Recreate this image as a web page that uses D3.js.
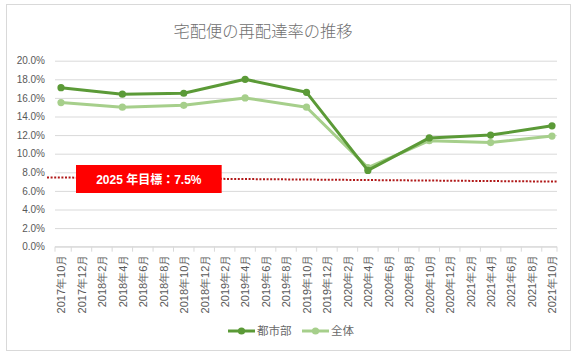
<!DOCTYPE html>
<html><head><meta charset="utf-8">
<script src="https://cdn.jsdelivr.net/npm/d3@7"></script>
<style>
body{margin:0;background:#fff;}
svg{display:block;font-family:"Liberation Sans",Arial,"Noto Sans CJK JP",sans-serif;}
</style></head>
<body><svg id="c" width="577" height="359"></svg>
<script>
const title = "宅配便の再配達率の推移";
const categories = ["2017年10月","2017年12月","2018年2月","2018年4月","2018年6月","2018年8月","2018年10月","2018年12月","2019年2月","2019年4月","2019年6月","2019年8月","2019年10月","2019年12月","2020年2月","2020年4月","2020年6月","2020年8月","2020年10月","2020年12月","2021年2月","2021年4月","2021年6月","2021年8月","2021年10月"];
const surveyMonths = ["2017年10月","2018年4月","2018年10月","2019年4月","2019年10月","2020年4月","2020年10月","2021年4月","2021年10月"];
const urbanValues = [17.1,16.4,16.5,18.0,16.6,8.2,11.7,12.0,13.0];
const totalValues = [15.5,15.0,15.2,16.0,15.0,8.5,11.4,11.2,11.9];
const seriesNames = ["都市部","全体"];
const yTicks = [0,2,4,6,8,10,12,14,16,18,20];
const targetLabel = "2025 年目標：7.5%";
const targetLine = [7.45, 7.0]; // drawn (slightly sloped) dotted target line, left/right ends

const colors = {urban:"#5b9a37", total:"#a6cf8b"};
const svg = d3.select("#c");

// outer border
svg.append("rect").attr("x",6.5).attr("y",4.5).attr("width",564).attr("height",346)
  .attr("fill","#fff").attr("stroke","#d9d9d9");

const x = d3.scalePoint().domain(categories).range([61,552]);
const step = x.step();
const y = d3.scaleLinear().domain([0,20]).range([246.7,60.7]);
const gx0 = 55, gx1 = 557;

// gridlines + y labels
const ya = svg.append("g").attr("transform",`translate(${gx0},0)`)
  .call(d3.axisLeft(y).tickValues(yTicks).tickSize(-(gx1-gx0)).tickPadding(10)
    .tickFormat(d=>d3.format(".1f")(d)+"%"));
ya.select(".domain").remove();
ya.selectAll(".tick line").attr("stroke","#d9d9d9").attr("stroke-width",1);
ya.selectAll(".tick text").attr("fill","#595959").attr("font-size","10px")
  .attr("font-family","'Liberation Sans',Arial,sans-serif");

// x axis
const xa = svg.append("g").attr("transform",`translate(0,${y(0)})`)
  .call(d3.axisBottom(x).tickSize(0).tickPadding(0));
xa.select(".domain").remove();
xa.append("line").attr("x1",gx0).attr("x2",gx1).attr("stroke","#d9d9d9");
xa.selectAll(".tick text").attr("fill","#595959").attr("font-size","11px")
  .attr("transform","rotate(-90)").attr("text-anchor","end")
  .attr("x",-8).attr("y",0).attr("dy","0.35em");
const bounds = categories.map((c,i)=>x(c)-step/2).concat([x(categories[categories.length-1])+step/2])
  .filter(b=>b>=gx0-6 && b<=gx1+6).map(b=>Math.max(gx0,Math.min(gx1,b)));
xa.selectAll("line.tk").data(bounds).join("line").attr("class","tk")
  .attr("x1",d=>d).attr("x2",d=>d).attr("y1",0).attr("y2",5).attr("stroke","#d9d9d9");

// target dotted line
svg.append("line")
  .attr("x1",x(categories[0])-14).attr("x2",gx1)
  .attr("y1",y(targetLine[0])).attr("y2",y(targetLine[1]))
  .attr("stroke","#b01818").attr("stroke-width",2).attr("stroke-dasharray","2,1.6");

// series
const series = [
  {name:seriesNames[1], vals:totalValues, color:colors.total},
  {name:seriesNames[0], vals:urbanValues, color:colors.urban}
];
const line = d3.line().x(d=>x(d.m)).y(d=>y(d.v));
series.forEach(s=>{
  const pts = surveyMonths.map((m,i)=>({m, v:s.vals[i]}));
  svg.append("path").datum(pts).attr("d",line).attr("fill","none")
    .attr("stroke",s.color).attr("stroke-width",3).attr("stroke-linejoin","round");
  svg.selectAll(null).data(pts).join("circle").attr("cx",d=>x(d.m)).attr("cy",d=>y(d.v))
    .attr("r",3.6).attr("fill",s.color);
});

// target label box
const bx0 = x(categories[0])+15, bx1 = x(categories[8])-3;
svg.append("rect").attr("x",bx0).attr("y",165).attr("width",bx1-bx0).attr("height",28).attr("fill","#ff0000");
svg.append("text").attr("x",(bx0+bx1)/2).attr("y",183.5).attr("text-anchor","middle")
  .attr("fill","#fff").attr("font-size","12px").attr("font-weight","bold").text(targetLabel);

// title
svg.append("text").attr("x",263).attr("y",36.5).attr("text-anchor","middle")
  .attr("fill","#707070").attr("font-size","16.3px").attr("font-weight","300")
  .attr("font-family","'Noto Sans CJK JP',sans-serif")
  .text(title);

// legend
const leg = [{name:seriesNames[0],color:colors.urban,x:228},{name:seriesNames[1],color:colors.total,x:302}];
const lg = svg.append("g");
leg.forEach(l=>{
  lg.append("line").attr("x1",l.x).attr("x2",l.x+27).attr("y1",331).attr("y2",331)
    .attr("stroke",l.color).attr("stroke-width",3);
  lg.append("circle").attr("cx",l.x+13.5).attr("cy",331).attr("r",3.6).attr("fill",l.color);
  lg.append("text").attr("x",l.x+29).attr("y",335).attr("fill","#6a6a6a").attr("font-size","11.5px")
    .attr("font-family","'Noto Sans CJK JP',sans-serif").text(l.name);
});
</script></body></html>
